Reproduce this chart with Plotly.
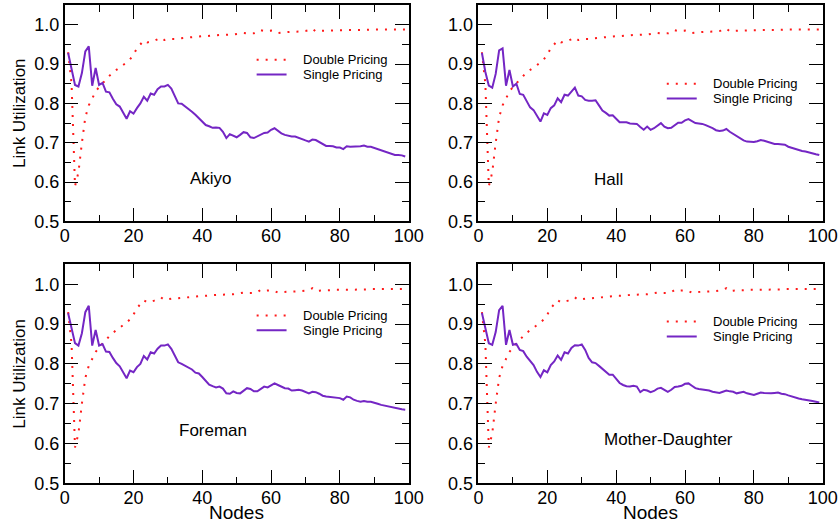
import plotly.graph_objects as go

# Number of nodes on the x axis
nodes = list(range(1, 100))

# Link utilization under double pricing (same behaviour in every sequence)
double_pricing = [
    0.93, 0.85, 0.59, 0.625, 0.70, 0.765, 0.795, 0.812, 0.83, 0.842,
    0.85, 0.86, 0.87, 0.878, 0.885, 0.891, 0.897, 0.904, 0.912, 0.924,
    0.94, 0.951, 0.96, 0.955, 0.957, 0.959, 0.963, 0.967, 0.961, 0.963,
    0.964, 0.964, 0.965, 0.966, 0.967, 0.968, 0.968, 0.969, 0.97, 0.971,
    0.971, 0.972, 0.972, 0.973, 0.974, 0.974, 0.975, 0.975, 0.975, 0.976,
    0.977, 0.979, 0.978, 0.978, 0.978, 0.98, 0.986, 0.984, 0.984, 0.985,
    0.983, 0.979, 0.98, 0.981, 0.981, 0.982, 0.982, 0.982, 0.983, 0.984,
    0.986, 0.99, 0.983, 0.984, 0.985, 0.985, 0.985, 0.986, 0.986, 0.986,
    0.986, 0.987, 0.987, 0.987, 0.987, 0.987, 0.987, 0.987, 0.988, 0.988,
    0.988, 0.988, 0.988, 0.988, 0.988, 0.988, 0.988, 0.988, 0.988,
]

# Link utilization under single pricing, one list per video sequence
single_akiyo = [
    0.928, 0.885, 0.847, 0.843, 0.877, 0.932, 0.945, 0.845, 0.89, 0.847,
    0.852, 0.83, 0.828, 0.812, 0.798, 0.792, 0.778, 0.761, 0.78, 0.774,
    0.788, 0.80, 0.817, 0.807, 0.825, 0.822, 0.836, 0.843, 0.843, 0.847,
    0.838, 0.818, 0.80, 0.799, 0.793, 0.786, 0.779, 0.771, 0.763, 0.753,
    0.745, 0.742, 0.738, 0.739, 0.738, 0.728, 0.712, 0.722, 0.718, 0.714,
    0.72, 0.727, 0.725, 0.714, 0.712, 0.716, 0.722, 0.725, 0.726, 0.733,
    0.737, 0.73, 0.724, 0.72, 0.718, 0.716, 0.716, 0.712, 0.71, 0.706,
    0.703, 0.708, 0.707, 0.702, 0.697, 0.692, 0.692, 0.691, 0.688, 0.688,
    0.684, 0.691, 0.69, 0.69, 0.69, 0.691, 0.693, 0.69, 0.69, 0.687,
    0.684, 0.68, 0.678, 0.675, 0.671, 0.669, 0.669, 0.668, 0.665,
]

single_hall = [
    0.928, 0.88, 0.845, 0.84, 0.875, 0.935, 0.94, 0.845, 0.885, 0.843,
    0.85, 0.824, 0.822, 0.805, 0.79, 0.783, 0.768, 0.754, 0.775, 0.771,
    0.788, 0.795, 0.813, 0.803, 0.822, 0.82, 0.83, 0.84, 0.82, 0.818,
    0.809, 0.807, 0.807, 0.808, 0.795, 0.782, 0.776, 0.769, 0.77, 0.76,
    0.752, 0.752, 0.752, 0.749, 0.748, 0.748, 0.74, 0.733, 0.741, 0.733,
    0.737, 0.744, 0.75, 0.741, 0.737, 0.738, 0.745, 0.751, 0.751, 0.757,
    0.76, 0.755, 0.75, 0.749, 0.748, 0.745, 0.742, 0.737, 0.732, 0.73,
    0.731, 0.735, 0.728, 0.722, 0.716, 0.71, 0.706, 0.703, 0.702, 0.702,
    0.704, 0.707, 0.705, 0.702, 0.699, 0.697, 0.697, 0.696, 0.695, 0.69,
    0.687, 0.683, 0.68, 0.679, 0.678, 0.675, 0.673, 0.671, 0.669,
]

single_foreman = [
    0.927, 0.885, 0.852, 0.846, 0.877, 0.93, 0.946, 0.846, 0.885, 0.846,
    0.85, 0.831, 0.83, 0.815, 0.802, 0.794, 0.78, 0.764, 0.783, 0.779,
    0.792, 0.80, 0.82, 0.811, 0.829, 0.826, 0.838, 0.846, 0.846, 0.849,
    0.838, 0.82, 0.804, 0.80, 0.795, 0.79, 0.786, 0.778, 0.776, 0.767,
    0.756, 0.748, 0.744, 0.741, 0.743, 0.738, 0.726, 0.725, 0.731, 0.727,
    0.726, 0.733, 0.739, 0.737, 0.731, 0.731, 0.738, 0.743, 0.741, 0.747,
    0.751, 0.747, 0.742, 0.739, 0.738, 0.733, 0.734, 0.735, 0.733, 0.729,
    0.726, 0.73, 0.729, 0.725, 0.72, 0.718, 0.717, 0.716, 0.715, 0.714,
    0.71, 0.718, 0.716, 0.71, 0.707, 0.705, 0.707, 0.705, 0.705, 0.703,
    0.70, 0.697, 0.695, 0.693, 0.692, 0.69, 0.687, 0.686, 0.685,
]

single_mother = [
    0.928, 0.888, 0.852, 0.848, 0.88, 0.935, 0.946, 0.848, 0.885, 0.848,
    0.85, 0.835, 0.832, 0.818, 0.806, 0.797, 0.78, 0.767, 0.784, 0.779,
    0.797, 0.806, 0.821, 0.81, 0.829, 0.826, 0.84, 0.847, 0.846, 0.849,
    0.835, 0.815, 0.804, 0.802, 0.795, 0.788, 0.78, 0.773, 0.773, 0.762,
    0.752, 0.747, 0.744, 0.743, 0.745, 0.743, 0.729, 0.735, 0.733, 0.729,
    0.732, 0.738, 0.74, 0.735, 0.73, 0.735, 0.742, 0.743, 0.745, 0.75,
    0.751, 0.745, 0.739, 0.737, 0.736, 0.735, 0.733, 0.73, 0.729, 0.727,
    0.73, 0.733, 0.731, 0.73, 0.726, 0.728, 0.73, 0.726, 0.724, 0.722,
    0.725, 0.728, 0.727, 0.726, 0.726, 0.727, 0.728, 0.725, 0.724, 0.721,
    0.718, 0.715, 0.713, 0.711, 0.71, 0.709, 0.707, 0.705, 0.703,
]

sequence_names = ["Akiyo", "Hall", "Foreman", "Mother-Daughter"]
single_series = [single_akiyo, single_hall, single_foreman, single_mother]
series_names = ["Double Pricing", "Single Pricing"]

y_ticks = [0.5, 0.6, 0.7, 0.8, 0.9, 1.0]
x_ticks = [0, 20, 40, 60, 80, 100]

# Panel layout: domains, name label position, key position (sample x0, x1,
# text x) and the vertical centre of the two key rows
panels = [
    dict(xd=[0.0771, 0.4871], yd=[0.5813, 0.9905], label=(42.6, 0.608),
         leg_x=(55.8, 64.5, 68.9), leg_mid=0.8925),
    dict(xd=[0.5703, 0.9806], yd=[0.5813, 0.9905], label=(37.9, 0.606),
         leg_x=(54.7, 63.4, 67.9), leg_mid=0.8315),
    dict(xd=[0.0771, 0.4871], yd=[0.0864, 0.5002], label=(43.1, 0.632),
         leg_x=(55.8, 64.5, 68.9), leg_mid=0.903),
    dict(xd=[0.5703, 0.9806], yd=[0.0864, 0.5002], label=(55.2, 0.611),
         leg_x=(54.7, 63.4, 67.9), leg_mid=0.8875),
]
KEY_GAP = 0.0375  # distance between the two key rows, in data units

RED = "#ff1a1a"
PURPLE = "#7426c4"
FONT = "Liberation Sans, Arial, sans-serif"
DOT = "2px,7px"

fig = go.Figure()
layout = dict(
    width=839, height=529,
    margin=dict(l=0, r=0, t=0, b=0),
    paper_bgcolor="white", plot_bgcolor="white",
    showlegend=False,
    font=dict(family=FONT, color="black"),
)
annotations = []
shapes = []

for i, (p, name, single) in enumerate(zip(panels, sequence_names, single_series)):
    n = "" if i == 0 else str(i + 1)
    xa, ya = "x" + n, "y" + n

    fig.add_trace(go.Scatter(
        x=nodes, y=double_pricing, mode="lines", name=series_names[0],
        line=dict(color=RED, width=2, dash=DOT),
        xaxis=xa, yaxis=ya,
    ))
    fig.add_trace(go.Scatter(
        x=nodes, y=single, mode="lines", name=series_names[1],
        line=dict(color=PURPLE, width=2),
        xaxis=xa, yaxis=ya,
    ))

    axis_common = dict(
        showline=True, linecolor="black", linewidth=1.5, mirror="allticks",
        ticks="inside", ticklen=14, tickwidth=1.3, tickcolor="black",
        showgrid=False, zeroline=False, automargin=False,
        tickfont=dict(size=18, family=FONT, color="black"),
    )
    layout["xaxis" + n] = dict(
        axis_common, domain=p["xd"], anchor=ya, range=[0, 100],
        tickvals=x_ticks, ticktext=[str(v) for v in x_ticks],
        ticklabelstandoff=-3,
        minor=dict(ticks="inside", ticklen=7, tickwidth=1.3, tickcolor="black",
                   tickvals=[10, 30, 50, 70, 90]),
    )
    layout["yaxis" + n] = dict(
        axis_common, domain=p["yd"], anchor=xa, range=[0.5, 1.05],
        tickvals=y_ticks, ticktext=["%.1f" % v for v in y_ticks],
        minor=dict(ticks="inside", ticklen=7, tickwidth=1.3, tickcolor="black",
                   tickvals=[0.55, 0.65, 0.75, 0.85, 0.95, 1.05]),
        title=dict(text="Link Utilization" if i % 2 == 0 else "",
                   font=dict(size=17, family=FONT), standoff=4),
    )

    # x axis title for the bottom row, set just under the tick labels
    if i >= 2:
        annotations.append(dict(
            x=0.5, y=0.032, xref=xa + " domain", yref="paper",
            text="Nodes", showarrow=False, xanchor="center", yanchor="middle",
            font=dict(size=19, family=FONT, color="black"),
        ))

    # sequence name inside the panel
    annotations.append(dict(
        x=p["label"][0], y=p["label"][1], xref=xa, yref=ya,
        text=name, showarrow=False, xanchor="center", yanchor="middle",
        font=dict(size=17, family=FONT, color="black"),
    ))

    # in-panel key: line samples and their labels
    x0, x1, xt = p["leg_x"]
    rows = [p["leg_mid"] + KEY_GAP / 2, p["leg_mid"] - KEY_GAP / 2]
    for yk, (label, color, dash) in zip(
            rows, [(series_names[0], RED, DOT), (series_names[1], PURPLE, "solid")]):
        shapes.append(dict(
            type="line", xref=xa, yref=ya, x0=x0, x1=x1, y0=yk, y1=yk,
            line=dict(color=color, width=2, dash=dash),
        ))
        annotations.append(dict(
            x=xt, y=yk, xref=xa, yref=ya, text=label, showarrow=False,
            xanchor="left", yanchor="middle", borderpad=0,
            font=dict(size=13, family=FONT, color="black"),
        ))

layout["annotations"] = annotations
layout["shapes"] = shapes
fig.update_layout(**layout)

fig.write_html("out.html")
